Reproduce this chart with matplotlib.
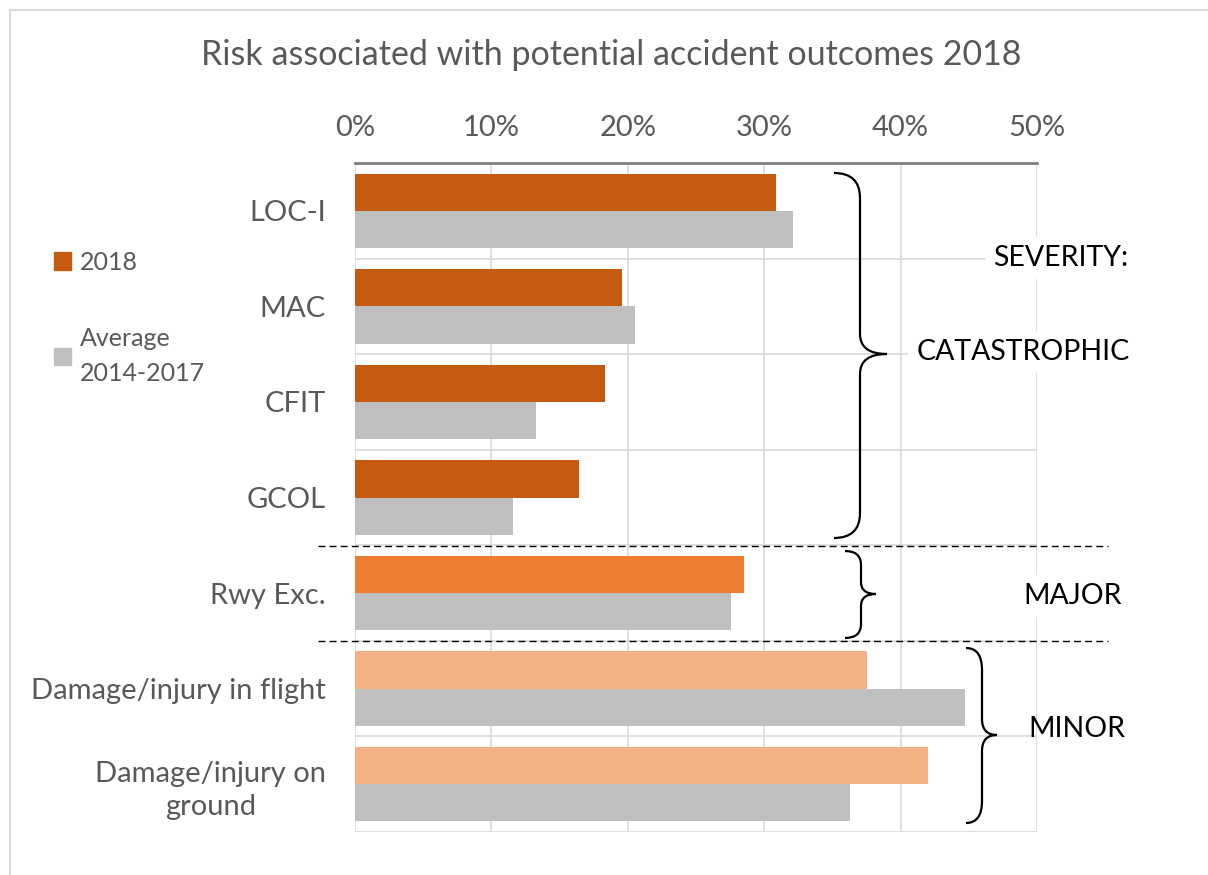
import numpy as np
import matplotlib.pyplot as plt
from matplotlib.path import Path
from matplotlib.patches import PathPatch, Rectangle, Patch
from matplotlib.ticker import PercentFormatter

plt.rcParams['font.family'] = ['Lato', 'DejaVu Sans']

categories = ['LOC-I', 'MAC', 'CFIT', 'GCOL', 'Rwy Exc.',
              'Damage/injury in flight', 'Damage/injury on\nground']
vals_2018 = [0.309, 0.196, 0.183, 0.164, 0.285, 0.375, 0.420]
vals_avg = [0.321, 0.205, 0.133, 0.116, 0.276, 0.447, 0.363]
colors_2018 = ['#C55A11', '#C55A11', '#C55A11', '#C55A11', '#ED7D31', '#F4B183', '#F4B183']
color_avg = '#BFBFBF'
xticks = [0, 0.1, 0.2, 0.3, 0.4, 0.5]

W, H = 1208, 875
fig = plt.figure(figsize=(W / 100, H / 100), dpi=100)


def fx(px):
    return px / W


def fy(py):
    return (H - py) / H


# axes placed in pixel terms of the reference
ax = fig.add_axes([fx(355), fy(832), fx(1037) - fx(355), fy(163) - fy(832)])

y = np.arange(len(categories))
h = 0.39
ax.barh(y - h / 2, vals_2018, height=h, color=colors_2018, zorder=2)
ax.barh(y + h / 2, vals_avg, height=h, color=color_avg, zorder=2)

ax.set_ylim(len(categories) - 0.5, -0.5)
ax.set_xlim(0, 0.5)
ax.set_xticks(xticks)
ax.xaxis.set_major_formatter(PercentFormatter(1.0, decimals=0))
ax.xaxis.tick_top()
ax.set_yticks(y)
ax.set_yticklabels(categories, multialignment='center')
for lab in ax.get_yticklabels():
    lab.set_linespacing(1.35)
ax.set_yticks(np.arange(len(categories) + 1) - 0.5, minor=True)
ax.tick_params(axis='both', which='both', length=0, colors='#595959', labelsize=21)
ax.tick_params(axis='x', pad=16)
ax.tick_params(axis='y', pad=21)

ax.grid(axis='x', which='major', color='#D9D9D9', lw=1.2, zorder=0)
ax.grid(axis='y', which='minor', color='#D9D9D9', lw=1.2, zorder=0)
for s in ['left', 'right', 'bottom']:
    ax.spines[s].set_visible(False)
ax.spines['top'].set_color('#808080')
ax.spines['top'].set_linewidth(2)

fig.text(fx(611), fy(55), 'Risk associated with potential accident outcomes 2018',
         ha='center', va='center', fontsize=24.5, color='#595959')

# legend
handles = [Patch(color='#C55A11', label='2018'),
           Patch(color=color_avg, label='Average\n2014-2017')]
leg = fig.legend(handles=handles, loc='upper left', bbox_to_anchor=(fx(31), fy(228)),
                 frameon=False, fontsize=18, labelcolor='#595959', handlelength=0.7,
                 handleheight=0.7, handletextpad=0.35, labelspacing=2.15)
for t in leg.get_texts():
    t.set_linespacing(1.6)


def brace(x0, xs, xt, ytop, ybot, ymid, r1=25, r2=20):
    verts = [(x0, ytop), (xs, ytop), (xs, ytop + r1),
             (xs, ymid - r2),
             (xs, ymid), (xt, ymid),
             (xs, ymid), (xs, ymid + r2),
             (xs, ybot - r1),
             (xs, ybot), (x0, ybot)]
    codes = [Path.MOVETO, Path.CURVE3, Path.CURVE3,
             Path.LINETO,
             Path.CURVE3, Path.CURVE3,
             Path.CURVE3, Path.CURVE3,
             Path.LINETO,
             Path.CURVE3, Path.CURVE3]
    verts = [(fx(a), fy(b)) for a, b in verts]
    fig.add_artist(PathPatch(Path(verts, codes), fill=False, lw=1.6,
                             edgecolor='black', transform=fig.transFigure))


brace(834, 860, 887, 173, 538, 354)
brace(845, 861, 876, 551, 638, 594, r1=14, r2=12)
brace(966, 982, 997, 648, 823, 735, r1=22, r2=16)

# dashed separators
for py in [546, 641]:
    fig.add_artist(plt.Line2D([fx(318), fx(1108)], [fy(py), fy(py)], color='black',
                              lw=1, ls=(0, (5, 3)), transform=fig.transFigure))

box = dict(facecolor='white', edgecolor='none', pad=6)
fig.text(fx(1061), fy(258), 'SEVERITY:', ha='center', va='center', fontsize=20.5, bbox=box)
fig.text(fx(1023), fy(352), 'CATASTROPHIC', ha='center', va='center', fontsize=20.5, bbox=box)
fig.text(fx(1073), fy(596), 'MAJOR', ha='center', va='center', fontsize=20.5, bbox=box)
fig.text(fx(1077), fy(729), 'MINOR', ha='center', va='center', fontsize=20.5)

# outer chart border
fig.add_artist(Rectangle((fx(10), fy(880)), fx(1210), fy(10) - fy(880), fill=False,
                         edgecolor='#D9D9D9', lw=1.5, transform=fig.transFigure))

fig.savefig('out.png', dpi=100)
